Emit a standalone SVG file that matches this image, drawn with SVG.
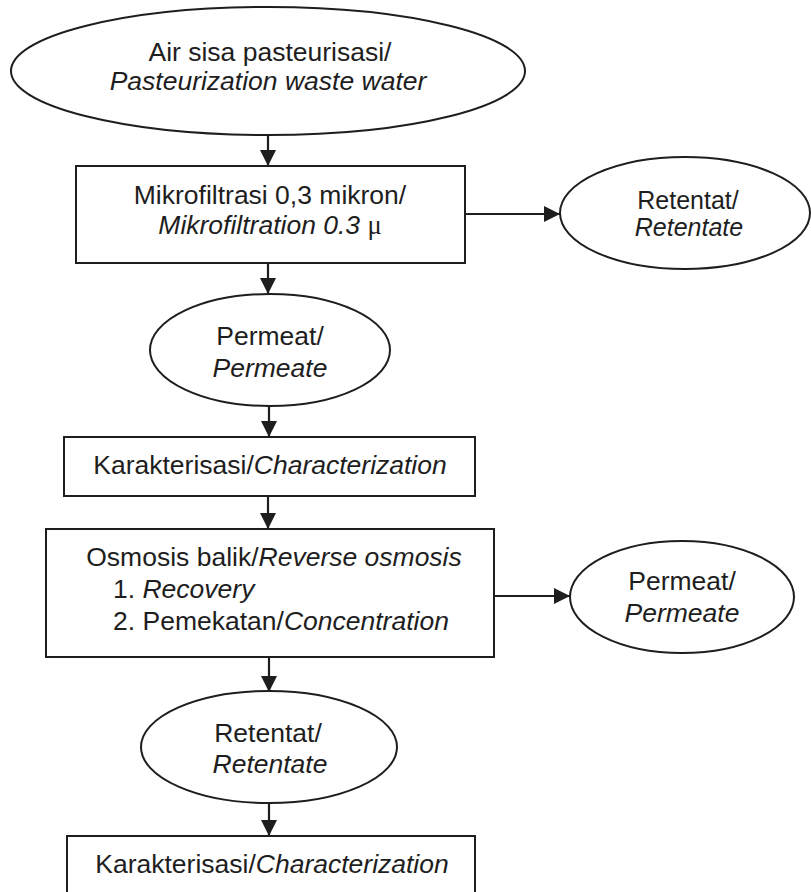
<svg xmlns="http://www.w3.org/2000/svg" width="811" height="892" viewBox="0 0 811 892">
<style>
.shape{fill:#fff;stroke:#1e1e1e;stroke-width:2}
.edge{fill:none;stroke:#1e1e1e;stroke-width:2.2}
text{font-family:"Liberation Sans",Arial,sans-serif;font-size:26.5px;fill:#1e1e1e;text-anchor:middle}
.it{font-style:italic}
.mu{font-family:"Liberation Serif","Times New Roman",serif;font-style:normal}
.sm{font-size:25px}
</style>
<defs>
<marker id="arr" markerUnits="userSpaceOnUse" markerWidth="17" markerHeight="16" refX="16" refY="8" orient="auto">
<path d="M0,0 L16,8 L0,16 z" fill="#1e1e1e"/>
</marker>
</defs>
<rect width="811" height="892" fill="#fff"/>
<g id="connectors">
<line class="edge" x1="268" y1="135" x2="268" y2="166" marker-end="url(#arr)"/>
<line class="edge" x1="465" y1="214" x2="560" y2="214" marker-end="url(#arr)"/>
<line class="edge" x1="268" y1="263" x2="268" y2="294" marker-end="url(#arr)"/>
<line class="edge" x1="269" y1="406" x2="269" y2="437" marker-end="url(#arr)"/>
<line class="edge" x1="268" y1="496" x2="268" y2="529" marker-end="url(#arr)"/>
<line class="edge" x1="494" y1="596" x2="570" y2="596" marker-end="url(#arr)"/>
<line class="edge" x1="269" y1="657" x2="269" y2="692" marker-end="url(#arr)"/>
<line class="edge" x1="269" y1="803" x2="269" y2="836" marker-end="url(#arr)"/>
</g>
<g id="n-waste">
<ellipse class="shape" cx="268" cy="71" rx="257" ry="64"/>
<text x="270" y="61">Air sisa pasteurisasi/</text>
<text x="268" y="90" class="it">Pasteurization waste water</text>
</g>
<g id="n-micro">
<rect class="shape" x="76" y="166" width="389" height="97"/>
<text x="270" y="204">Mikrofiltrasi 0,3 mikron/</text>
<text x="270" y="234"><tspan class="it">Mikrofiltration 0.3</tspan> <tspan class="mu">μ</tspan></text>
</g>
<g id="n-retentat1">
<ellipse class="shape" cx="685" cy="213" rx="125" ry="56"/>
<text x="688" y="209" class="sm">Retentat/</text>
<text x="689" y="236" class="sm it">Retentate</text>
</g>
<g id="n-permeat1">
<ellipse class="shape" cx="270" cy="350" rx="120" ry="56"/>
<text x="270" y="345">Permeat/</text>
<text x="270" y="377" class="it">Permeate</text>
</g>
<g id="n-char1">
<rect class="shape" x="64" y="437" width="411" height="59"/>
<text x="270" y="474">Karakterisasi/<tspan class="it">Characterization</tspan></text>
</g>
<g id="n-ro">
<rect class="shape" x="46" y="529" width="448" height="128"/>
<text x="274" y="566">Osmosis balik/<tspan class="it">Reverse osmosis</tspan></text>
<text x="113" y="598" style="text-anchor:start">1. <tspan class="it">Recovery</tspan></text>
<text x="113" y="630" style="text-anchor:start">2. Pemekatan/<tspan class="it">Concentration</tspan></text>
</g>
<g id="n-permeat2">
<ellipse class="shape" cx="682" cy="597" rx="112" ry="56"/>
<text x="682" y="590">Permeat/</text>
<text x="682" y="622" class="it">Permeate</text>
</g>
<g id="n-retentat2">
<ellipse class="shape" cx="269" cy="747" rx="128" ry="56"/>
<text x="268" y="742">Retentat/</text>
<text x="270" y="773" class="it">Retentate</text>
</g>
<g id="n-char2">
<rect class="shape" x="67" y="836" width="408" height="70"/>
<text x="272" y="873">Karakterisasi/<tspan class="it">Characterization</tspan></text>
</g>
</svg>
